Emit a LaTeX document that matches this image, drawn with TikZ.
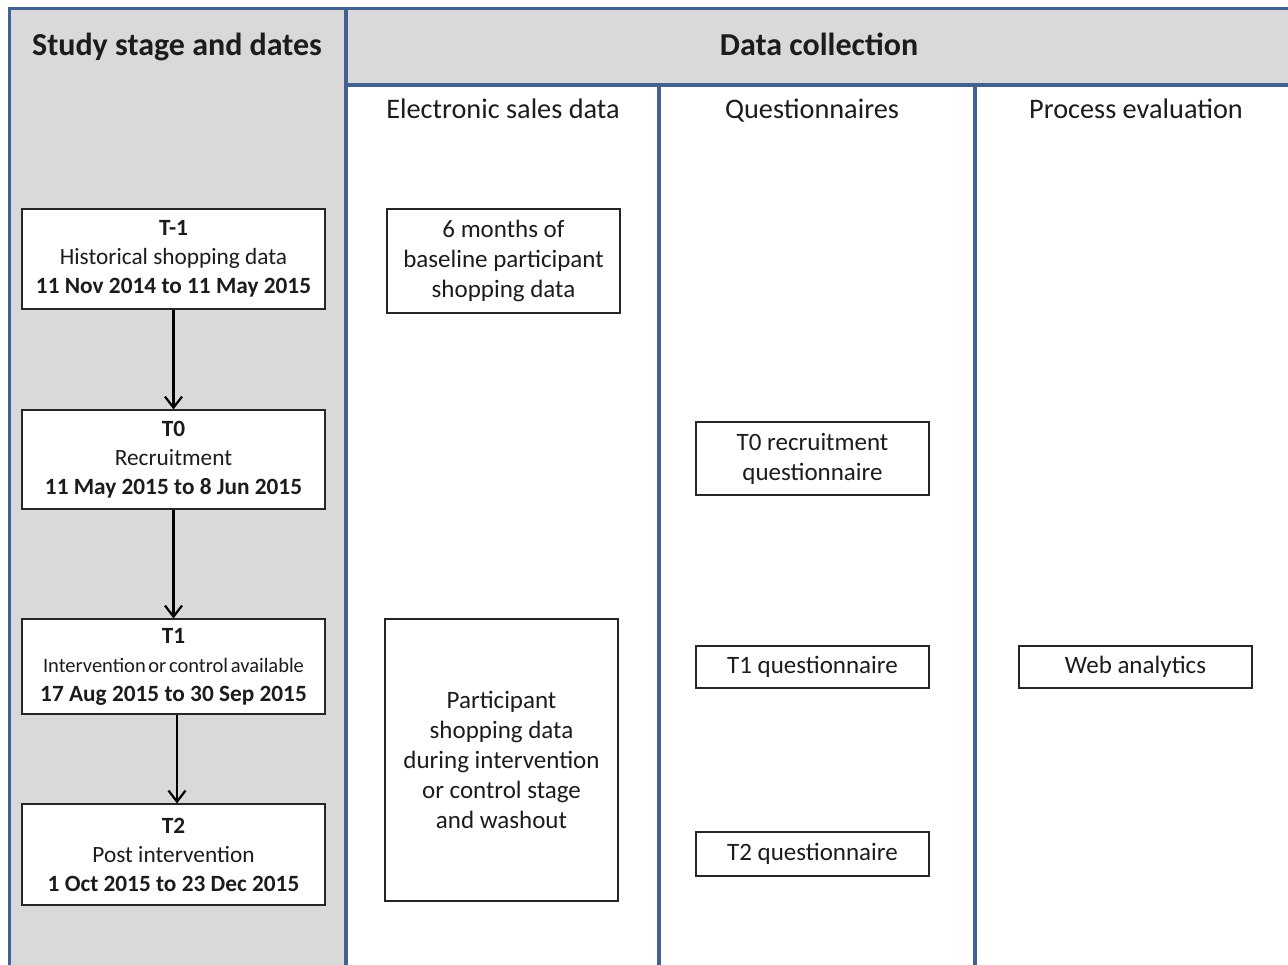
\documentclass[tikz,border=0pt]{standalone}
\usepackage{fontspec}
\setmainfont{Carlito}
\usetikzlibrary{arrows.meta,calc}
\definecolor{frameblue}{RGB}{65,98,145}
\definecolor{panelgray}{RGB}{217,217,217}
\definecolor{inktext}{RGB}{28,28,28}

\begin{document}
\begin{tikzpicture}[x=1pt,y=-1pt,
  stagebox/.style={draw=black!85, line width=1.2pt, fill=white, align=center,
    inner sep=0pt, text=inktext, font=\fontsize{23.3}{29}\selectfont,
    minimum width=303pt},
  databox/.style={draw=black!85, line width=1.2pt, fill=white, align=center,
    inner sep=0pt, text=inktext, font=\fontsize{25}{30}\selectfont,
    minimum width=233pt},
  paneltitle/.style={font=\bfseries\fontsize{32}{36}\selectfont, text=inktext,
    anchor=base},
  colhead/.style={font=\fontsize{28.3}{32}\selectfont, text=inktext,
    anchor=base},
  rule/.style={draw=frameblue, line width=3.5pt},
  flow/.style={draw=black, line width=2.2pt,
    -{Straight Barb[length=11pt,width=17pt,line width=2.2pt]}}]

\useasboundingbox (0,0) rectangle (1288,965);

% shaded panels
\fill[panelgray] (9,9) rectangle (346,965);
\fill[panelgray] (346,9) rectangle (1288,85);

% frame and column rules
\draw[rule, line width=3pt] (7.5,9) -- (1288,9);
\draw[rule, line width=3pt] (9,9) -- (9,965);
\draw[rule] (346,9) -- (346,965);
\draw[rule] (346,85) -- (1288,85);
\draw[rule] (659,85) -- (659,965);
\draw[rule] (975,85) -- (975,965);

% headings
\node[paneltitle] (hstage) at (177,56) {Study stage and dates};
\node[paneltitle] (hdata) at (819,56) {Data collection};
\node[colhead] (hsales) at (503,119) {Electronic sales data};
\node[colhead] (hquest) at (812,119) {Questionnaires};
\node[colhead] (hproc) at (1136,119) {Process evaluation};

% study stages
\node[stagebox, minimum height=100pt] (tm1) at (173.5,259)
  {{\bfseries T-1}\\Historical shopping data\\{\bfseries 11 Nov 2014 to 11 May 2015}};
\node[stagebox, minimum height=99pt] (t0) at (173.5,459.5)
  {{\bfseries T0}\\Recruitment\\{\bfseries 11 May 2015 to 8 Jun 2015}};
\node[stagebox, minimum height=95pt] (t1) at (173.5,666.5)
  {{\bfseries T1}\\{\fontsize{20.5}{29}\selectfont\spaceskip=0.13em Intervention or control available}\\{\bfseries 17 Aug 2015 to 30 Sep 2015}};
\node[stagebox, minimum height=101pt] (t2) at (173.5,854.5)
  {{\bfseries T2}\\Post intervention\\{\bfseries 1 Oct 2015 to 23 Dec 2015}};

\draw[flow] (tm1.south) -- (t0.north);
\draw[flow] (t0.south) -- (t1.north);
\draw[flow] ($(t1.south)+(3.5,0)$) -- ($(t2.north)+(3.5,0)$);

% electronic sales data
\node[databox, minimum height=104pt] (base) at (503.5,261)
  {6 months of\\baseline participant\\shopping data};
\node[databox, minimum height=282pt] (during) at (501.5,760)
  {Participant\\shopping data\\during intervention\\or control stage\\and washout};

% questionnaires
\node[databox, minimum height=73pt] (q0) at (812.5,458.5)
  {T0 recruitment\\questionnaire};
\node[databox, minimum height=42pt] (q1) at (812.5,667) {T1 questionnaire};
\node[databox, minimum height=44pt] (q2) at (812.5,854) {T2 questionnaire};

% process evaluation
\node[databox, minimum height=42pt] (web) at (1135.5,667) {Web analytics};
\end{tikzpicture}
\end{document}
